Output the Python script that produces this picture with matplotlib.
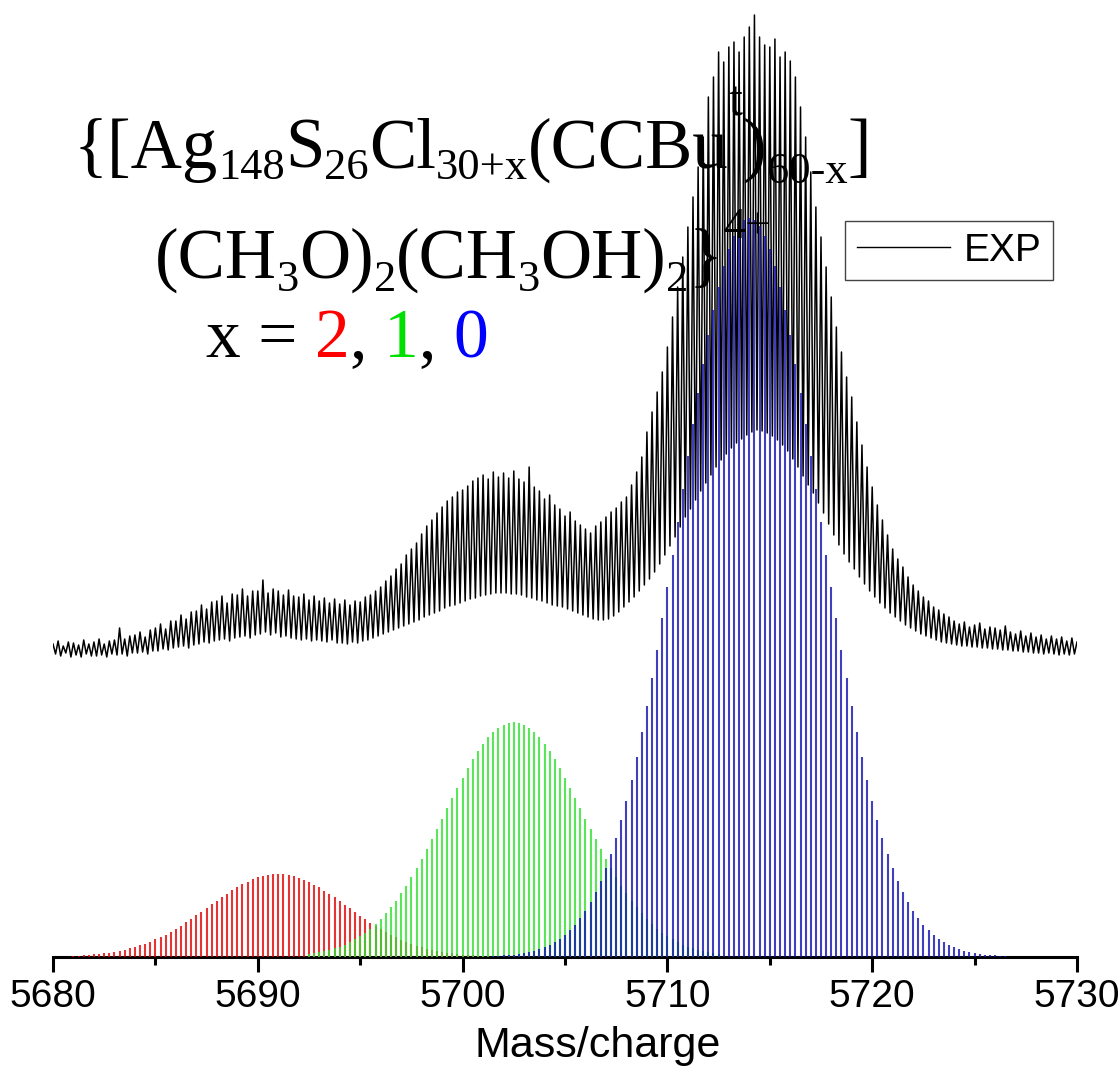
import numpy as np
import matplotlib
matplotlib.use("Agg")
import matplotlib.pyplot as plt
from matplotlib.lines import Line2D
from matplotlib.ticker import MultipleLocator

# ---------------- data (intensity in arbitrary units) -------------
x_start, x_end = 5680, 5730
iso_step = 0.25          # 4+ charge -> isotopic spacing 0.25

# experimental trace: local maxima (at 5680.00, 5680.25, ...) and minima (at +0.125)
exp_tops = [
    313, 316, 311, 315,  314, 312, 317, 313,  315, 318, 313, 316,  317, 329, 318, 321,
    322, 325, 320, 327,  329, 333, 328, 336,  336, 342, 338, 345,  346, 352, 348, 355,
    356, 361, 354, 363,  362, 368, 361, 366,  366, 377, 364, 368,  366, 362, 367, 361,
    360, 363, 357, 361,  356, 359, 354, 358,  353, 357, 352, 356,  355, 360, 362, 366,
    370, 376, 381, 388,  393, 402, 408, 414,  423, 431, 437, 444,  450, 456, 460, 465,
    467, 471, 476, 479,  482, 478, 485, 480,  484, 479, 486, 478,  475, 490, 470, 466,
    458, 462, 452, 448,  441, 445, 436, 432,  428, 424, 431, 435,  440, 445, 449, 455,
    460, 472, 485, 500,  525, 545, 565, 585,  610, 640, 670, 700,  730, 760, 790, 820,
    860, 880, 905, 895,  910, 915, 905, 920,  930, 942, 920, 912,  910, 918, 900, 905,
    896, 880, 850, 820,  785, 750, 720, 690,  660, 630, 605, 580,  560, 535, 512, 490,
    470, 452, 437, 422,  408, 398, 390, 380,  372, 366, 360, 356,  350, 347, 343, 340,
    336, 333, 335, 330,  332, 334, 328, 330,  329, 327, 331, 325,  323, 326, 321, 324,
    320, 322, 318, 321,  318, 320, 316, 319,  315]
exp_valleys = [
    303, 301, 304, 300,  302, 300, 303, 301,  301, 302, 300, 303,  302, 303, 301, 304,
    304, 305, 303, 306,  306, 308, 307, 309,  310, 311, 309, 312,  313, 315, 314, 316,
    317, 318, 316, 319,  320, 321, 319, 322,  323, 325, 322, 324,  320, 321, 319, 318,
    317, 318, 316, 317,  316, 315, 317, 314,  314, 313, 315, 314,  316, 317, 319, 321,
    323, 325, 327, 329,  331, 333, 335, 337,  340, 342, 344, 346,  349, 351, 352, 354,
    356, 358, 359, 361,  362, 363, 364, 364,  364, 363, 363, 362,  360, 359, 357, 356,
    354, 352, 351, 350,  348, 346, 344, 342,  340, 338, 337, 337,  338, 341, 345, 350,
    355, 360, 366, 372,  378, 385, 393, 402,  411, 420, 430, 440,  448, 457, 466, 474,
    482, 490, 497, 503,  509, 514, 518, 522,  525, 527, 526, 524,  521, 517, 512, 506,
    498, 490, 481, 472,  464, 454, 444, 433,  422, 412, 403, 395,  388, 380, 373, 366,
    360, 354, 349, 344,  340, 336, 332, 329,  326, 323, 321, 319,  317, 315, 314, 313,
    312, 311, 311, 310,  310, 309, 309, 308,  308, 307, 307, 306,  306, 305, 305, 304,
    304, 303, 304, 303,  302, 303, 302, 303]

# simulated isotope patterns, x = 2 (red), 1 (green), 0 (blue)
red_start = 5681.0
red = [1, 1, 2, 2, 3, 3, 4, 4, 5, 6, 7, 9, 10, 12, 13, 15, 18, 20, 22, 25,
       28, 31, 35, 38, 42, 45, 49, 53, 56, 60, 63, 67, 70, 73, 75, 78, 80, 81, 82, 83,
       83, 83, 82, 81, 79, 77, 75, 72, 70, 66, 63, 60, 56, 52, 49, 45, 41, 38, 34, 31,
       28, 25, 22, 20, 17, 15, 13, 11, 10, 8, 7, 6, 5, 4, 4, 3, 2, 2, 2, 1, 1]
green_start = 5692.5
green = [3, 4, 5, 6, 7, 9, 10, 12, 15, 18, 21, 24, 28, 33, 38, 44, 50, 56, 64, 71,
         80, 89, 98, 108, 118, 128, 138, 149, 159, 169, 179, 189, 198, 206, 213, 220,
         225, 229, 232, 234, 235, 234, 232, 229, 225, 220, 213, 206, 198, 189, 179, 169,
         159, 149, 138, 128, 118, 108, 98, 89, 80, 71, 64, 56, 50, 44, 38, 33, 28, 24,
         21, 18, 15, 12, 10, 9, 7, 6, 5, 4, 3]
blue_start = 5701.5
blue = [1, 1, 2, 2, 2, 3, 4, 5, 6, 8, 10, 12, 15, 18, 22, 27, 32, 39, 46, 55,
        65, 76, 89, 103, 119, 137, 156, 177, 200, 225, 251, 279, 307, 339, 370, 402,
        435, 468, 501, 533, 564, 593, 622, 647, 670, 691, 708, 721, 731, 737, 739,
        737, 731, 721, 708, 691, 670, 647, 622, 593, 564, 533, 501, 468, 435, 402, 370,
        339, 307, 279, 251, 225, 200, 177, 156, 137, 119, 103, 89, 76, 65, 55, 46, 39,
        32, 27, 22, 18, 15, 12, 10, 8, 6, 5, 4, 3, 2, 2, 2, 1, 1]

xticks_major = [5680, 5690, 5700, 5710, 5720, 5730]
xlabel = "Mass/charge"
legend_label = "EXP"

# ---------------- figure ----------------
plt.rcParams['font.family'] = ['Liberation Sans', 'DejaVu Sans']

W, H = 1120, 1073
fig = plt.figure(figsize=(W / 100, H / 100), dpi=100)
ax = fig.add_axes([53 / W, 116 / H, 1024 / W, 957 / H])

# experimental trace (interleave maxima and minima)
n_top = len(exp_tops)
x_tops = x_start + iso_step * np.arange(n_top)
x_val = x_start + iso_step / 2 + iso_step * np.arange(len(exp_valleys))
xs = np.empty(n_top + len(exp_valleys))
ys = np.empty_like(xs)
xs[0::2] = x_tops
ys[0::2] = exp_tops
xs[1::2] = x_val
ys[1::2] = exp_valleys
ax.plot(xs, ys, color='black', lw=1.1, zorder=2)

def sticks(start, vals, color):
    xv = start + iso_step * np.arange(len(vals))
    ax.vlines(xv, 0, vals, colors=color, lw=1.5, alpha=0.8, zorder=3)

sticks(red_start, red, '#e00000')
sticks(green_start, green, '#30e030')
sticks(blue_start, blue, '#1010b0')

ax.set_xlim(x_start, x_end)
ax.set_ylim(0, 957)
for s in ['left', 'right', 'top']:
    ax.spines[s].set_visible(False)
ax.spines['bottom'].set_linewidth(2.2)
ax.set_yticks([])
ax.set_xticks(xticks_major)
ax.xaxis.set_minor_locator(MultipleLocator(5))
ax.tick_params(axis='x', which='major', direction='out', length=11, width=2.2,
               labelsize=28, pad=5)
ax.tick_params(axis='x', which='minor', direction='out', length=6, width=2.2)
ax.patch.set_alpha(0)
fig.text(598 / W, 1 - 1057 / H, xlabel, fontsize=31, ha='center', va='baseline')

# legend
h = Line2D([], [], color='black', lw=1.0)
leg = ax.legend([h], [legend_label], loc='upper left',
                bbox_to_anchor=(845 / W, 1 - 221 / H), bbox_transform=fig.transFigure,
                fontsize=28, frameon=True, fancybox=False, edgecolor='#444444',
                framealpha=1, borderpad=0.3, handlelength=2.4, handletextpad=0.35,
                borderaxespad=0)
leg.get_frame().set_linewidth(1.0)

# formula annotation built piece by piece: (text, size, vertical shift px, colour)
BIG, SMALL = 51, 32
line1 = [("{[Ag", BIG, 0), ("148", SMALL, -11), ("S", BIG, 0), ("26", SMALL, -11),
         ("Cl", BIG, 0), ("30+x", SMALL, -11), ("(CCBu", BIG, 0), ("t", 36, 52),
         (")", BIG, 0), ("60-x", SMALL, -15), ("]", BIG, 0)]
line2 = [("(CH", BIG, 0), ("3", SMALL, -13), ("O)", BIG, 0), ("2", SMALL, -13),
         ("(CH", BIG, 0), ("3", SMALL, -13), ("OH)", BIG, 0), ("2", SMALL, -13),
         ("}", BIG, 0), ("4+", SMALL, 40)]
line3 = [("x = ", 50, 0, 'black'), ("2", 50, 0, '#ff0000'), (", ", 50, 0, 'black'),
         ("1", 50, 0, '#00e000'), (", ", 50, 0, 'black'), ("0", 50, 0, '#0000ff')]

fig.canvas.draw()
r = fig.canvas.get_renderer()

def chain(x0, base, parts):
    xpos = x0
    for p in parts:
        txt, size, dy = p[0], p[1], p[2]
        col = p[3] if len(p) > 3 else 'black'
        t = fig.text(xpos / W, 1 - (base - dy) / H, txt, fontsize=size, color=col,
                     ha='left', va='baseline', family='Liberation Serif', zorder=5)
        xpos += t.get_window_extent(renderer=r).width

chain(74, 168, line1)
chain(155, 278, line2)
chain(206, 357, line3)

fig.savefig('out.png', dpi=100)
